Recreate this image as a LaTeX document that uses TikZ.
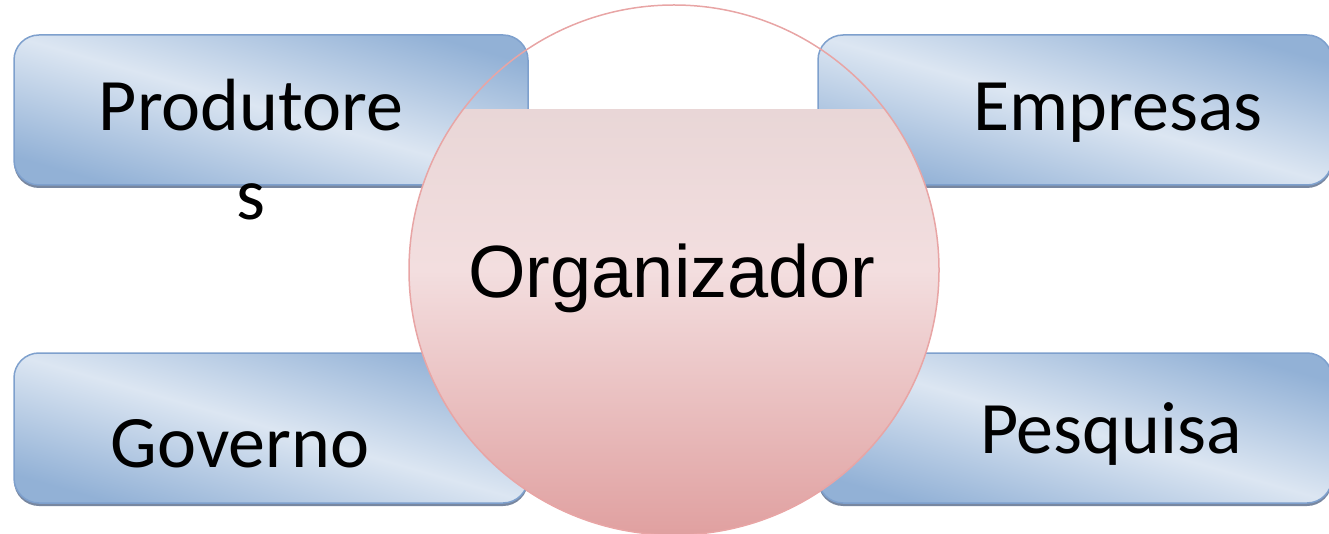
\documentclass[tikz,border=0pt]{standalone}
\usepackage{fontspec}
\setmainfont{Carlito}
\newfontfamily\orgfont{Liberation Sans}
\usepackage{tikz}
\usetikzlibrary{shadows}

\definecolor{boxlight}{RGB}{220,230,242}
\definecolor{boxdark}{RGB}{146,177,214}
\definecolor{boxline}{RGB}{126,160,205}
\definecolor{boxshade}{RGB}{120,135,160}
\definecolor{orgtop}{RGB}{226,209,209}
\definecolor{orgmid}{RGB}{243,222,223}
\definecolor{orgbot}{RGB}{224,160,160}
\definecolor{orgline}{RGB}{232,165,165}

\begin{document}
\begin{tikzpicture}[x=1pt,y=-1pt]
  \useasboundingbox (0,0) rectangle (1329,534);

        \begin{scope}[every node/.style={draw=boxline, line width=1.5pt, rounded corners=25pt,
            minimum width=514pt, minimum height=150pt, inner sep=0pt,
            top color=boxdark, bottom color=boxdark, middle color=boxlight, shading angle=-16,
            drop shadow={shadow xshift=0pt, shadow yshift=-3pt, fill=boxshade, opacity=1}}]
          \node (prod) at (271,110) {};
          \node (emp)  at (1075,110) {};
          \node (gov)  at (271,428) {};
          \node (pesq) at (1075,428) {};
        \end{scope}

        \begin{scope}
          \clip (0,110) rectangle (1329,534);
          \node[circle, minimum size=530pt, inner sep=0pt,
            top color=orgtop, bottom color=orgbot, middle color=orgmid] (org) at (674,270) {};
        \end{scope}
        \draw[orgline, line width=1.5pt] (org.center) circle[radius=265pt];

        \begin{scope}[every node/.style={anchor=base, inner sep=0pt, align=center,
            font=\fontsize{74pt}{89pt}\selectfont}]
          \node (prodtxt) at (251,220) {Produtore\\s};
          \node (emptxt)  at (1118,131) {Empresas};
          \node (govtxt)  at (240,467) {Governo};
          \node (pesqtxt) at (1111,453) {Pesquisa};
          \node[font=\orgfont\fontsize{74pt}{89pt}\selectfont] (orgtxt) at (672,298) {Organizador};
        \end{scope}

      \end{tikzpicture}
\end{document}
